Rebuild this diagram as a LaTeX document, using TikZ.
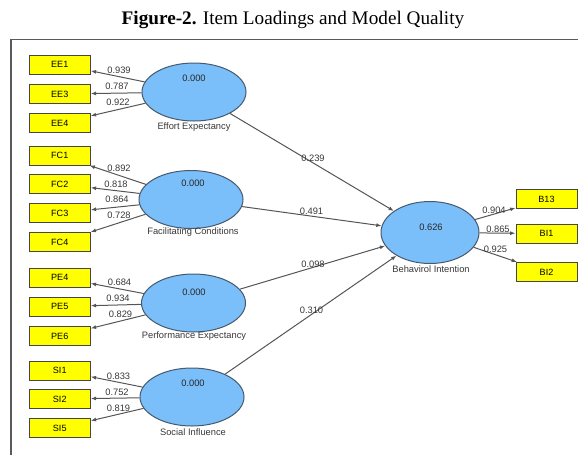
\documentclass[tikz,border=0pt]{standalone}
\usepackage{fontspec}
\setmainfont{Liberation Serif}
\newfontfamily\plsfont{Liberation Sans}
\usetikzlibrary{shapes.geometric,arrows.meta}

\tikzset{every picture/.style={line width=0.75pt}}
\tikzset{
  indbox/.style={draw={rgb, 255:red, 70; green, 70; blue, 70}, fill={rgb, 255:red, 255; green, 255; blue, 0},
    minimum width=45.75pt, minimum height=14.25pt, inner sep=0pt, font=\plsfont\fontsize{6.8}{7}\selectfont},
  latvar/.style={ellipse, draw={rgb, 255:red, 70; green, 90; blue, 110}, fill={rgb, 255:red, 122; green, 190; blue, 250},
    minimum width=78pt, minimum height=43.5pt, inner sep=0pt},
  loadtxt/.style={inner sep=0.75pt, font=\plsfont\fontsize{7}{8}\selectfont, text={rgb, 255:red, 55; green, 55; blue, 55}},
  lvtxt/.style={inner sep=0.75pt, font=\plsfont\fontsize{7}{8}\selectfont, text={rgb, 255:red, 40; green, 40; blue, 40}},
  pathline/.style={draw={rgb, 255:red, 85; green, 85; blue, 85}, -{Latex[length=4pt,width=3pt]}},
}

\begin{document}
\begin{tikzpicture}[x=0.75pt,y=0.75pt,yscale=-1,xscale=1]
\useasboundingbox (0,0) rectangle (578,455);

% Title
\node (title) at (293,19.5) {\fontsize{14.4}{16}\selectfont\textbf{Figure-2.} Item Loadings and Model Quality};
% Frame
\draw [color={rgb, 255:red, 90; green, 90; blue, 90 }, line width=1pt] (11,455) -- (11,39.5) -- (578,39.5) ;

% Latent variables
\node [latvar] (EE) at (194,92) {};
\node [latvar] (FC) at (191,199.5) {};
\node [latvar] (PE) at (193.5,303) {};
\node [latvar] (SI) at (192,397) {};
\node [latvar, minimum width=73.5pt, minimum height=46.5pt] (BI) at (430,232.5) {};

% R square values
\node [lvtxt] (vEE) at (194,78) {0.000};
\node [lvtxt] (vFC) at (193,183) {0.000};
\node [lvtxt] (vPE) at (194,292) {0.000};
\node [lvtxt] (vSI) at (193,383) {0.000};
\node [lvtxt] (vBI) at (431,227) {0.626};

% Latent names
\node [loadtxt] (nEE) at (194,127) {Effort Expectancy};
\node [loadtxt] (nFC) at (193,232) {Facilitating Conditions};
\node [loadtxt] (nPE) at (194,336) {Performance Expectancy};
\node [loadtxt] (nSI) at (193,432) {Social Influence};
\node [loadtxt] (nBI) at (431,269) {Behavirol Intention};

% Indicators
\node [indbox] (EE1) at (59.75,64.5) {EE1};
\node [indbox] (EE3) at (59.75,94) {EE3};
\node [indbox] (EE4) at (59.75,123) {EE4};
\node [indbox] (FC1) at (59.75,155.5) {FC1};
\node [indbox] (FC2) at (59.75,184) {FC2};
\node [indbox] (FC3) at (59.75,213) {FC3};
\node [indbox] (FC4) at (59.75,242) {FC4};
\node [indbox] (PE4) at (59.75,277.5) {PE4};
\node [indbox] (PE5) at (59.75,306.5) {PE5};
\node [indbox] (PE6) at (59.75,336) {PE6};
\node [indbox] (SI1) at (59.75,370.5) {SI1};
\node [indbox] (SI2) at (59.75,399) {SI2};
\node [indbox] (SI5) at (59.75,428) {SI5};
\node [indbox] (B13) at (546.5,199) {B13};
\node [indbox] (BI1) at (546.5,233.5) {BI1};
\node [indbox] (BI2) at (546.5,272) {BI2};

% Outer loadings
\draw [pathline] (EE) -- (EE1) ;
\draw [pathline] (EE) -- (EE3) ;
\draw [pathline] (EE) -- (EE4) ;
\draw [pathline] (FC) -- (FC1) ;
\draw [pathline] (FC) -- (FC2) ;
\draw [pathline] (FC) -- (FC3) ;
\draw [pathline] (FC) -- (FC4) ;
\draw [pathline] (PE) -- (PE4) ;
\draw [pathline] (PE) -- (PE5) ;
\draw [pathline] (PE) -- (PE6) ;
\draw [pathline] (SI) -- (SI1) ;
\draw [pathline] (SI) -- (SI2) ;
\draw [pathline] (SI) -- (SI5) ;
\draw [pathline] (BI) -- (B13) ;
\draw [pathline] (BI) -- (BI1) ;
\draw [pathline] (BI) -- (BI2) ;

% Inner paths
\draw [pathline] (EE) -- (BI) ;
\draw [pathline] (FC) -- (BI) ;
\draw [pathline] (PE) -- (BI) ;
\draw [pathline] (SI) -- (BI) ;

% Loading values
\node [loadtxt] (lEE1) at (119,70) {0.939};
\node [loadtxt] (lEE3) at (117,86.5) {0.787};
\node [loadtxt] (lEE4) at (118,102) {0.922};
\node [loadtxt] (lFC1) at (119,168) {0.892};
\node [loadtxt] (lFC2) at (116,184) {0.818};
\node [loadtxt] (lFC3) at (117,199.5) {0.864};
\node [loadtxt] (lFC4) at (119,215) {0.728};
\node [loadtxt] (lPE4) at (119.5,282) {0.684};
\node [loadtxt] (lPE5) at (118,298) {0.934};
\node [loadtxt] (lPE6) at (120.5,314) {0.829};
\node [loadtxt] (lSI1) at (118.5,376.5) {0.833};
\node [loadtxt] (lSI2) at (117,392) {0.752};
\node [loadtxt] (lSI5) at (118.5,408) {0.819};
\node [loadtxt] (lB13) at (494,210.5) {0.904};
\node [loadtxt] (lBI1) at (498,229) {0.865};
\node [loadtxt] (lBI2) at (495.5,249.5) {0.925};

% Path coefficients
\node [loadtxt] (pEE) at (313,158) {0.239};
\node [loadtxt] (pFC) at (311.5,211.5) {0.491};
\node [loadtxt] (pPE) at (313,264) {0.098};
\node [loadtxt] (pSI) at (311.5,310.5) {0.310};

\end{tikzpicture}
\end{document}
